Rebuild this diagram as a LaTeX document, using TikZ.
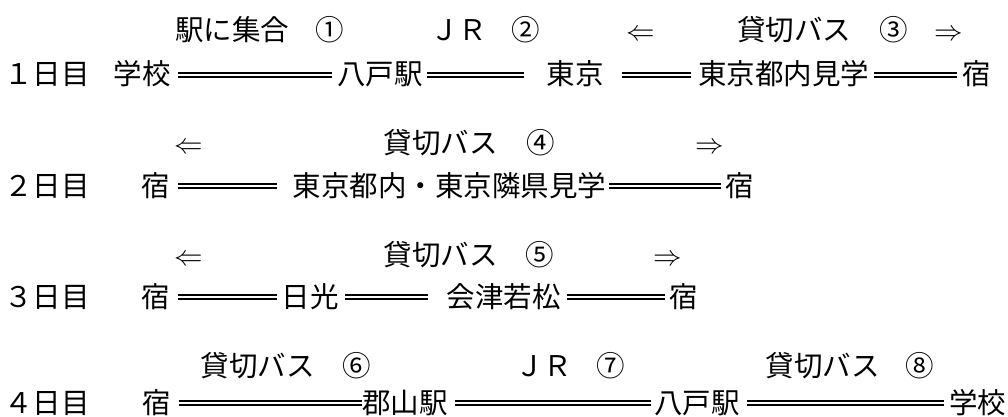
\documentclass[tikz,border=0pt]{standalone}
\usepackage{graphicx}
\usepackage{fontspec}
\newfontfamily\jp{Noto Sans CJK JP}
\newcommand\myLarr{\scalebox{2.85}{\fontsize{10}{12}\selectfont$\Leftarrow$}}
\newcommand\myRarr{\scalebox{2.85}{\fontsize{10}{12}\selectfont$\Rightarrow$}}
\begin{document}
\begin{tikzpicture}[x=1pt,y=-1pt,
  t/.style={font=\jp\fontsize{28.5}{30}\selectfont, inner sep=0pt, text height=24pt, text depth=4pt, anchor=center},
  dl/.style={double, double distance=1.8pt, line width=2.1pt}]
\useasboundingbox (0,0) rectangle (1008,417);
% ---------- Row 1 ----------
\node[t] (r1d) at (47,75) {１日目};
\node[t] (r1a) at (142,75) {学校};
\node[t] (r1b) at (380,75) {八戸駅};
\node[t] (r1c) at (575,75) {東京};
\node[t] (r1e) at (783.5,75) {東京都内見学};
\node[t] (r1f) at (976.5,75) {宿};
\node[t] (l1a) at (232,31) {駅に集合};
\node[t] (l1b) at (329.5,31) {①};
\node[t] (l1c) at (458.5,31) {ＪＲ};
\node[t] (l1d) at (525.5,31) {②};
\node[t] (l1e) at (640.5,31) {\myLarr};
\node[t] (l1f) at (794,31) {貸切バス};
\node[t] (l1g) at (894,31) {③};
\node[t] (l1h) at (949,31) {\myRarr};
\draw[dl, shorten <=7.5pt, shorten >=5.25pt] (r1a.east) -- (r1b.west);
\draw[dl, shorten <=4.25pt, shorten >=22.5pt] (r1b.east) -- (r1c.west);
\draw[dl, shorten <=18.5pt, shorten >=7pt] (r1c.east) -- (r1e.west);
\draw[dl, shorten <=5pt, shorten >=5.25pt] (r1e.east) -- (r1f.west);
% ---------- Row 2 ----------
\node[t] (r2d) at (47,186) {２日目};
\node[t] (r2a) at (156,186) {宿};
\node[t] (r2b) at (449.5,186) {東京都内・東京隣県見学};
\node[t] (r2c) at (739.5,186) {宿};
\node[t] (l2a) at (188.5,143) {\myLarr};
\node[t] (l2b) at (440.5,143) {貸切バス};
\node[t] (l2c) at (540.5,143) {④};
\node[t] (l2d) at (709.5,143) {\myRarr};
\draw[dl, shorten <=7.75pt, shorten >=15.75pt] (r2a.east) -- (r2b.west);
\draw[dl, shorten <=2.75pt, shorten >=4.25pt] (r2b.east) -- (r2c.west);
% ---------- Row 3 ----------
\node[t] (r3d) at (47,297) {３日目};
\node[t] (r3a) at (156,297) {宿};
\node[t] (r3b) at (310,297) {日光};
\node[t] (r3c) at (503.5,297) {会津若松};
\node[t] (r3e) at (684,297) {宿};
\node[t] (l3a) at (188.5,255) {\myLarr};
\node[t] (l3b) at (440.5,255) {貸切バス};
\node[t] (l3c) at (540,255) {⑤};
\node[t] (l3d) at (667.5,255) {\myRarr};
\draw[dl, shorten <=7.75pt, shorten >=4.5pt] (r3a.east) -- (r3b.west);
\draw[dl, shorten <=6.5pt, shorten >=18.5pt] (r3b.east) -- (r3c.west);
\draw[dl, shorten <=6.5pt, shorten >=4.75pt] (r3c.east) -- (r3e.west);
% ---------- Row 4 ----------
\node[t] (r4d) at (47,403) {４日目};
\node[t] (r4a) at (156.5,403) {宿};
\node[t] (r4b) at (405,403) {郡山駅};
\node[t] (r4c) at (697,403) {八戸駅};
\node[t] (r4e) at (977.5,403) {学校};
\node[t] (l4a) at (257.5,366) {貸切バス};
\node[t] (l4b) at (356.5,366) {⑥};
\node[t] (l4c) at (543.5,366) {ＪＲ};
\node[t] (l4d) at (610.5,366) {⑦};
\node[t] (l4e) at (822.5,366) {貸切バス};
\node[t] (l4f) at (920,366) {⑧};
\draw[dl, shorten <=7.75pt, shorten >=0.25pt] (r4a.east) -- (r4b.west);
\draw[dl, shorten <=7.25pt, shorten >=3.25pt] (r4b.east) -- (r4c.west);
\draw[dl, shorten <=7.25pt, shorten >=5pt] (r4c.east) -- (r4e.west);
\end{tikzpicture}
\end{document}
